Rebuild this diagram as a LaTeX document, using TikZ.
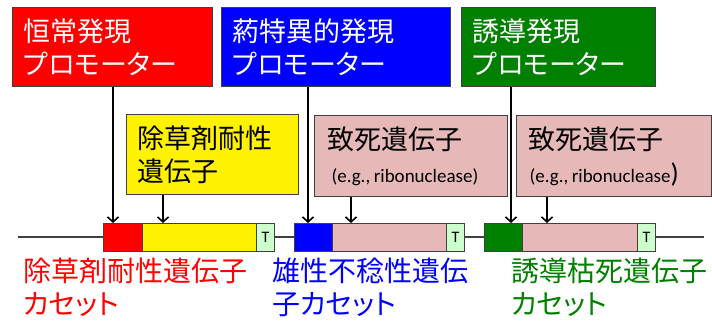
\documentclass[tikz,border=0pt]{standalone}
\usepackage{fontspec}
\setmainfont{Noto Sans CJK JP}[RawFeature=+palt]
\newfontfamily\latfont{Carlito}
\usetikzlibrary{arrows.meta}
\definecolor{edgegray}{RGB}{64,64,64}
\definecolor{genepink}{RGB}{230,184,183}
\definecolor{termgreen}{RGB}{204,255,204}
\definecolor{indgreen}{RGB}{0,128,0}

\begin{document}
\begin{tikzpicture}[x=1pt,y=-1pt,
    box/.style={draw=edgegray,line width=1.2pt,anchor=north west,inner xsep=11pt,
      inner ysep=0pt,align=left,font=\fontsize{27}{33}\selectfont},
    seg/.style={draw=edgegray,line width=1.2pt,anchor=north west,
      minimum height=28pt,inner sep=0pt},
    term/.style={seg,fill=termgreen,minimum width=18pt,font=\latfont\fontsize{16}{16}\selectfont},
    arr/.style={line width=1.6pt,-{Straight Barb[length=5pt,width=11pt]}},
    cassette/.style={anchor=north west,align=left,inner sep=0pt,
      font=\fontsize{28}{33}\selectfont}]
    % set coordinates
    \useasboundingbox (0,0) rectangle (712,322);
    \coordinate (l0) at (18,237);
    \coordinate (l1) at (704,237);
    \coordinate (x1) at (113,0);
    \coordinate (x2) at (163,0);
    \coordinate (x3) at (308,0);
    \coordinate (x4) at (351,0);
    \coordinate (x5) at (511,0);
    \coordinate (x6) at (547,0);
    % draw figure
    \draw [line width=1.1pt,edgegray] (l0) -- (l1);
    \node [seg,fill=red,minimum width=39pt] (segA) at (103,223) {};
    \node [seg,fill=yellow,minimum width=114pt] (segB) at (142,223) {};
    \node [term] (termA) at (256,223) {T};
    \node [seg,fill=blue,minimum width=38pt] (segC) at (294,223) {};
    \node [seg,fill=genepink,minimum width=114pt] (segD) at (332,223) {};
    \node [term] (termB) at (446,223) {T};
    \node [seg,fill=indgreen,minimum width=38pt] (segE) at (484,223) {};
    \node [seg,fill=genepink,minimum width=115pt] (segF) at (522,223) {};
    \node [term] (termC) at (637,223) {T};
    % promoters
    \node [box,fill=red,text=white,text width=178pt,minimum height=79pt] (promA) at (12,7)
      {恒常発現\\プロモーター};
    \node [box,fill=blue,text=white,text width=207pt,minimum height=79pt] (promB) at (221,7)
      {葯特異的発現\\プロモーター};
    \node [box,fill=indgreen,text=white,text width=172pt,minimum height=79pt] (promC) at (461,7)
      {誘導発現\\プロモーター};
    % genes
    \node [box,fill=yellow,text width=150pt,minimum height=80pt] (herb) at (126,114)
      {除草剤耐性\\遺伝子};
    \node [box,fill=genepink,inner xsep=13pt,text width=167pt,minimum height=81pt] (lethA) at (314,115)
      {致死遺伝子\\{\hspace{4pt}\latfont\fontsize{19}{19}\selectfont (e.g.,\hspace{3.5pt}ribonuclease)}};
    \node [box,fill=genepink,inner xsep=12pt,text width=171pt,minimum height=81pt] (lethB) at (516,115)
      {致死遺伝子\\{\hspace{1pt}\latfont\fontsize{19}{19}\selectfont (e.g.,\hspace{3.5pt}ribonuclease\fontsize{27}{27}\selectfont)}};
    % arrows
    \draw [arr] (promA.south -| x1) -- (segA.north -| x1);
    \draw [arr] (herb.south -| x2) -- (segB.north -| x2);
    \draw [arr] (promB.south -| x3) -- (segC.north -| x3);
    \draw [arr] (lethA.south -| x4) -- (segD.north -| x4);
    \draw [arr] (promC.south -| x5) -- (segE.north -| x5);
    \draw [arr] (lethB.south -| x6) -- (segF.north -| x6);
    % add labels
    \node [cassette,text=red] (labA) at (23,258) {除草剤耐性遺伝子\\カセット};
    \node [cassette,text=blue] (labB) at (272,258) {雄性不稔性遺伝\\子カセット};
    \node [cassette,text=indgreen] (labC) at (511,258) {誘導枯死遺伝子\\カセット};
\end{tikzpicture}
\end{document}
